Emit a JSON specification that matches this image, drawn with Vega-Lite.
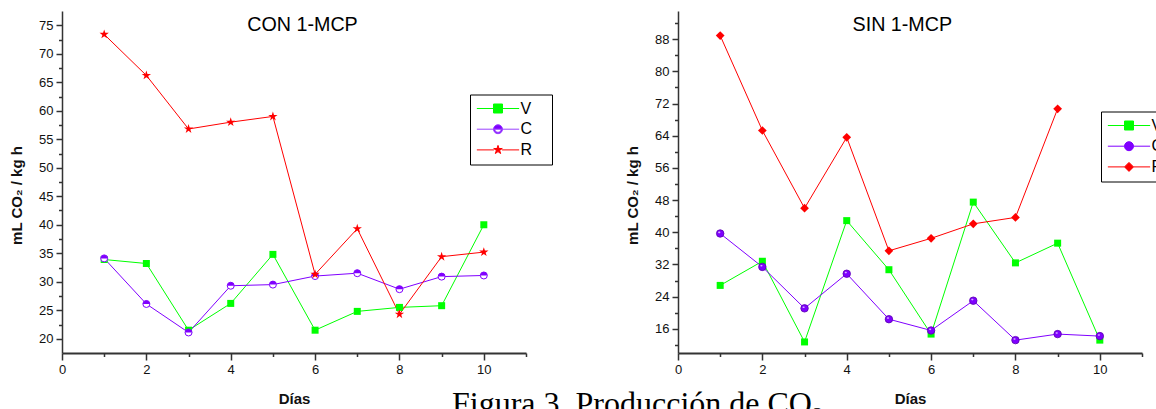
{
  "$schema": "https://vega.github.io/schema/vega-lite/v6.json",
  "background": "white",
  "padding": {"left": 9, "top": 11, "right": 0, "bottom": 0},
  "config": {
    "font": "Liberation Sans",
    "view": {"stroke": null},
    "axis": {"grid": false, "domainColor": "#333333", "tickColor": "#333333", "labelFont": "Liberation Sans", "labelFontSize": 13, "labelColor": "#111111", "titleFont": "Liberation Sans", "titleFontSize": 15, "titleFontWeight": "bold", "titleColor": "#111111"},
    "axisX": {"domainWidth": 2, "tickWidth": 1.5},
    "axisY": {"domainWidth": 1.5, "tickWidth": 1.5},
    "legend": {"orient": "none", "direction": "vertical", "symbolSize": 81, "symbolOffset": 14, "labelOffset": 14.5, "padding": 6, "rowPadding": 4.7, "strokeColor": "black", "fillColor": "white", "labelFontSize": 16, "labelFont": "Liberation Sans", "labelColor": "black", "symbolStrokeWidth": 1}
  },
  "title": {"text": "Figura 3. Producción de CO₂", "orient": "bottom", "anchor": "start", "frame": "bounds", "dx": 443, "offset": 8, "baseline": "alphabetic", "font": "Liberation Serif", "fontSize": 32, "fontWeight": "normal", "color": "black"},
  "datasets": {
    "con": [
      {"dia": 1, "serie": "V", "valor": 33.9}, {"dia": 2, "serie": "V", "valor": 33.2}, {"dia": 3, "serie": "V", "valor": 21.5}, {"dia": 4, "serie": "V", "valor": 26.2}, {"dia": 5, "serie": "V", "valor": 34.8},
      {"dia": 6, "serie": "V", "valor": 21.5}, {"dia": 7, "serie": "V", "valor": 24.8}, {"dia": 8, "serie": "V", "valor": 25.5}, {"dia": 9, "serie": "V", "valor": 25.8}, {"dia": 10, "serie": "V", "valor": 40.0},
      {"dia": 1, "serie": "C", "valor": 34.1}, {"dia": 2, "serie": "C", "valor": 26.1}, {"dia": 3, "serie": "C", "valor": 21.1}, {"dia": 4, "serie": "C", "valor": 29.3}, {"dia": 5, "serie": "C", "valor": 29.5},
      {"dia": 6, "serie": "C", "valor": 31.0}, {"dia": 7, "serie": "C", "valor": 31.5}, {"dia": 8, "serie": "C", "valor": 28.7}, {"dia": 9, "serie": "C", "valor": 30.9}, {"dia": 10, "serie": "C", "valor": 31.1},
      {"dia": 1, "serie": "R", "valor": 73.4}, {"dia": 2, "serie": "R", "valor": 66.2}, {"dia": 3, "serie": "R", "valor": 56.8}, {"dia": 4, "serie": "R", "valor": 58.0}, {"dia": 5, "serie": "R", "valor": 59.0},
      {"dia": 6, "serie": "R", "valor": 31.3}, {"dia": 7, "serie": "R", "valor": 39.3}, {"dia": 8, "serie": "R", "valor": 24.3}, {"dia": 9, "serie": "R", "valor": 34.4}, {"dia": 10, "serie": "R", "valor": 35.2}
    ],
    "sin": [
      {"dia": 1, "serie": "V", "valor": 26.8}, {"dia": 2, "serie": "V", "valor": 32.8}, {"dia": 3, "serie": "V", "valor": 12.75}, {"dia": 4, "serie": "V", "valor": 42.9}, {"dia": 5, "serie": "V", "valor": 30.7},
      {"dia": 6, "serie": "V", "valor": 14.7}, {"dia": 7, "serie": "V", "valor": 47.5}, {"dia": 8, "serie": "V", "valor": 32.4}, {"dia": 9, "serie": "V", "valor": 37.3}, {"dia": 10, "serie": "V", "valor": 13.2},
      {"dia": 1, "serie": "C", "valor": 39.7}, {"dia": 2, "serie": "C", "valor": 31.4}, {"dia": 3, "serie": "C", "valor": 21.1}, {"dia": 4, "serie": "C", "valor": 29.7}, {"dia": 5, "serie": "C", "valor": 18.4},
      {"dia": 6, "serie": "C", "valor": 15.6}, {"dia": 7, "serie": "C", "valor": 23.0}, {"dia": 8, "serie": "C", "valor": 13.2}, {"dia": 9, "serie": "C", "valor": 14.7}, {"dia": 10, "serie": "C", "valor": 14.2},
      {"dia": 1, "serie": "R", "valor": 88.9}, {"dia": 2, "serie": "R", "valor": 65.3}, {"dia": 3, "serie": "R", "valor": 46.0}, {"dia": 4, "serie": "R", "valor": 63.6}, {"dia": 5, "serie": "R", "valor": 35.4},
      {"dia": 6, "serie": "R", "valor": 38.5}, {"dia": 7, "serie": "R", "valor": 42.1}, {"dia": 8, "serie": "R", "valor": 43.7}, {"dia": 9, "serie": "R", "valor": 70.7}
    ]
  },
  "bounds": "flush",
  "spacing": 152,
  "resolve": {"scale": {"x": "independent", "y": "independent", "color": "independent", "fill": "independent", "stroke": "independent", "shape": "independent"}, "legend": {"color": "independent", "fill": "independent", "stroke": "independent", "shape": "independent"}},
  "hconcat": [
    {
      "width": 464, "height": 342,
      "data": {"name": "con"},
      "title": {"text": "CON 1-MCP", "orient": "top", "anchor": "middle", "frame": "group", "dx": 8.5, "offset": -39.3, "baseline": "alphabetic", "font": "Liberation Sans", "fontSize": 19.7, "fontWeight": "normal", "color": "black"},
      "resolve": {"axis": {"x": "independent", "y": "independent"}},
      "layer": [
        {
          "mark": {"type": "line", "strokeWidth": 1},
          "encoding": {
            "x": {"field": "dia", "type": "quantitative", "scale": {"domain": [0, 11], "nice": false, "zero": false}, "axis": {"values": [0, 2, 4, 6, 8, 10], "format": "d", "tickSize": 7, "labelPadding": 3, "labelFlush": false, "labelOverlap": false, "title": "Días", "titleX": 232, "titleY": 50, "titleBaseline": "alphabetic", "titleAlign": "center"}},
            "y": {"field": "valor", "type": "quantitative", "scale": {"domain": [17.5, 77.5], "nice": false, "zero": false}, "axis": {"values": [20, 25, 30, 35, 40, 45, 50, 55, 60, 65, 70, 75], "tickSize": 6, "labelPadding": 3, "labelFlush": false, "labelOverlap": false, "title": "mL CO₂ / kg h", "titleX": -41, "titleY": 184, "titleBaseline": "alphabetic", "titleAlign": "center"}},
            "color": {"field": "serie", "type": "nominal", "scale": {"domain": ["R", "C", "V"], "range": ["#ff0000", "#8000ff", "#00ff00"]}, "legend": null}
          }
        },
        {
          "transform": [{"filter": "datum.serie === 'V'"}],
          "mark": {"type": "point", "shape": "square", "filled": true, "color": "#00ff00", "size": 49, "opacity": 1},
          "encoding": {
            "x": {"field": "dia", "type": "quantitative", "scale": {"domain": [0, 11], "nice": false, "zero": false}, "axis": {"orient": "bottom", "values": [1, 3, 5, 7, 9, 11], "tickSize": 3.5, "labels": false, "domain": false, "title": null}},
            "y": {"field": "valor", "type": "quantitative", "scale": {"domain": [17.5, 77.5], "nice": false, "zero": false}, "axis": {"orient": "left", "values": [22.5, 27.5, 32.5, 37.5, 42.5, 47.5, 52.5, 57.5, 62.5, 67.5, 72.5], "tickSize": 3.5, "labels": false, "domain": false, "title": null}}
          }
        },
        {
          "transform": [{"filter": "datum.serie === 'C'"}],
          "mark": {"type": "point", "shape": "circle", "filled": true, "fill": "#ffffff", "stroke": "#8000ff", "strokeWidth": 1, "size": 49, "opacity": 1},
          "encoding": {
            "x": {"field": "dia", "type": "quantitative", "scale": {"domain": [0, 11], "nice": false, "zero": false}, "axis": null},
            "y": {"field": "valor", "type": "quantitative", "scale": {"domain": [17.5, 77.5], "nice": false, "zero": false}, "axis": null}
          }
        },
        {
          "transform": [{"filter": "datum.serie === 'C'"}],
          "mark": {"type": "point", "shape": "M-1,0A1,1 0 0,1 1,0Z", "filled": true, "color": "#8000ff", "size": 49, "opacity": 1},
          "encoding": {
            "x": {"field": "dia", "type": "quantitative", "scale": {"domain": [0, 11], "nice": false, "zero": false}, "axis": null},
            "y": {"field": "valor", "type": "quantitative", "scale": {"domain": [17.5, 77.5], "nice": false, "zero": false}, "axis": null}
          }
        },
        {
          "transform": [{"filter": "datum.serie === 'R'"}],
          "mark": {"type": "point", "shape": "M0,-1L0.225,-0.309L0.951,-0.309L0.363,0.118L0.588,0.809L0,0.382L-0.588,0.809L-0.363,0.118L-0.951,-0.309L-0.225,-0.309Z", "filled": true, "color": "#ff0000", "size": 96, "opacity": 1},
          "encoding": {
            "x": {"field": "dia", "type": "quantitative", "scale": {"domain": [0, 11], "nice": false, "zero": false}, "axis": null},
            "y": {"field": "valor", "type": "quantitative", "scale": {"domain": [17.5, 77.5], "nice": false, "zero": false}, "axis": null}
          }
        },
        {
          "transform": [{"filter": "false"}],
          "mark": {"type": "point", "filled": true, "size": 81, "strokeWidth": 1, "opacity": 1},
          "encoding": {
            "x": {"field": "dia", "type": "quantitative", "scale": {"domain": [0, 11], "nice": false, "zero": false}, "axis": null},
            "y": {"field": "valor", "type": "quantitative", "scale": {"domain": [17.5, 77.5], "nice": false, "zero": false}, "axis": null},
            "fill": {"field": "serie", "type": "nominal", "scale": {"domain": ["V", "C", "R"], "range": ["#00ff00", "#8000ff", "#ff0000"]}, "legend": {"title": null, "legendX": 408, "legendY": 83.5, "labelExpr": "datum.label + '\u00a0\u00a0\u00a0\u200b'"}},
            "stroke": {"field": "serie", "type": "nominal", "scale": {"domain": ["V", "C", "R"], "range": ["#00ff00", "#9a40ff", "#ff0000"]}, "legend": {"title": null, "legendX": 408, "legendY": 83.5, "labelExpr": "datum.label + '\u00a0\u00a0\u00a0\u200b'"}},
            "shape": {"field": "serie", "type": "nominal", "scale": {"domain": ["V", "C", "R"], "range": ["M-4.7,0H-1M1,0H4.7M-1,-1H1V1H-1Z", "M-4.7,0H-1M1,0H4.7M-1,0A1,1 0 0,1 1,0ZM-1,0A1,1 0 0,0 1,0L0.7,0A0.7,0.7 0 0,1 -0.7,0Z", "M-4.7,0H-0.9M0.9,0H4.7M0,-1L0.225,-0.309L0.951,-0.309L0.363,0.118L0.588,0.809L0,0.382L-0.588,0.809L-0.363,0.118L-0.951,-0.309L-0.225,-0.309Z"]}, "legend": {"title": null, "legendX": 408, "legendY": 83.5, "labelExpr": "datum.label + '\u00a0\u00a0\u00a0\u200b'"}}
          }
        }
      ]
    },
    {
      "width": 464, "height": 342,
      "data": {"name": "sin"},
      "title": {"text": "SIN 1-MCP", "orient": "top", "anchor": "middle", "frame": "group", "dx": -7.7, "offset": -39.3, "baseline": "alphabetic", "font": "Liberation Sans", "fontSize": 19.7, "fontWeight": "normal", "color": "black"},
      "resolve": {"axis": {"x": "independent", "y": "independent"}},
      "layer": [
        {
          "mark": {"type": "line", "strokeWidth": 1},
          "encoding": {
            "x": {"field": "dia", "type": "quantitative", "scale": {"domain": [0, 11], "nice": false, "zero": false}, "axis": {"values": [0, 2, 4, 6, 8, 10], "format": "d", "tickSize": 7, "labelPadding": 3, "labelFlush": false, "labelOverlap": false, "title": "Días", "titleX": 232, "titleY": 50, "titleBaseline": "alphabetic", "titleAlign": "center"}},
            "y": {"field": "valor", "type": "quantitative", "scale": {"domain": [10, 95], "nice": false, "zero": false}, "axis": {"values": [16, 24, 32, 40, 48, 56, 64, 72, 80, 88], "tickSize": 6, "labelPadding": 3, "labelFlush": false, "labelOverlap": false, "title": "mL CO₂ / kg h", "titleX": -41, "titleY": 184, "titleBaseline": "alphabetic", "titleAlign": "center"}},
            "color": {"field": "serie", "type": "nominal", "scale": {"domain": ["R", "C", "V"], "range": ["#ff0000", "#8000ff", "#00ff00"]}, "legend": null}
          }
        },
        {
          "transform": [{"filter": "datum.serie === 'V'"}],
          "mark": {"type": "point", "shape": "square", "filled": true, "color": "#00ff00", "size": 49, "opacity": 1},
          "encoding": {
            "x": {"field": "dia", "type": "quantitative", "scale": {"domain": [0, 11], "nice": false, "zero": false}, "axis": {"orient": "bottom", "values": [1, 3, 5, 7, 9, 11], "tickSize": 3.5, "labels": false, "domain": false, "title": null}},
            "y": {"field": "valor", "type": "quantitative", "scale": {"domain": [10, 95], "nice": false, "zero": false}, "axis": {"orient": "left", "values": [12, 20, 28, 36, 44, 52, 60, 68, 76, 84, 92], "tickSize": 3.5, "labels": false, "domain": false, "title": null}}
          }
        },
        {
          "transform": [{"filter": "datum.serie === 'C'"}],
          "mark": {"type": "point", "shape": "circle", "filled": true, "fill": "#7f00ff", "stroke": "#5a00b0", "strokeWidth": 0.8, "size": 56, "opacity": 1},
          "encoding": {
            "x": {"field": "dia", "type": "quantitative", "scale": {"domain": [0, 11], "nice": false, "zero": false}, "axis": null},
            "y": {"field": "valor", "type": "quantitative", "scale": {"domain": [10, 95], "nice": false, "zero": false}, "axis": null}
          }
        },
        {
          "transform": [{"filter": "datum.serie === 'C'"}],
          "mark": {"type": "point", "shape": "M-0.55,-0.3A0.3,0.22 0 1,1 0.05,-0.3A0.3,0.22 0 1,1 -0.55,-0.3Z", "filled": true, "color": "#e2c4ff", "size": 56, "opacity": 0.9},
          "encoding": {
            "x": {"field": "dia", "type": "quantitative", "scale": {"domain": [0, 11], "nice": false, "zero": false}, "axis": null},
            "y": {"field": "valor", "type": "quantitative", "scale": {"domain": [10, 95], "nice": false, "zero": false}, "axis": null}
          }
        },
        {
          "transform": [{"filter": "datum.serie === 'R'"}],
          "mark": {"type": "point", "shape": "diamond", "filled": true, "color": "#ff0000", "size": 76, "opacity": 1},
          "encoding": {
            "x": {"field": "dia", "type": "quantitative", "scale": {"domain": [0, 11], "nice": false, "zero": false}, "axis": null},
            "y": {"field": "valor", "type": "quantitative", "scale": {"domain": [10, 95], "nice": false, "zero": false}, "axis": null}
          }
        },
        {
          "transform": [{"filter": "false"}],
          "mark": {"type": "point", "filled": true, "size": 81, "strokeWidth": 1, "opacity": 1},
          "encoding": {
            "x": {"field": "dia", "type": "quantitative", "scale": {"domain": [0, 11], "nice": false, "zero": false}, "axis": null},
            "y": {"field": "valor", "type": "quantitative", "scale": {"domain": [10, 95], "nice": false, "zero": false}, "axis": null},
            "fill": {"field": "serie", "type": "nominal", "scale": {"domain": ["V", "C", "R"], "range": ["#00ff00", "#8000ff", "#ff0000"]}, "legend": {"title": null, "legendX": 423, "legendY": 100.5}},
            "stroke": {"field": "serie", "type": "nominal", "scale": {"domain": ["V", "C", "R"], "range": ["#00ff00", "#8000ff", "#ff0000"]}, "legend": {"title": null, "legendX": 423, "legendY": 100.5}},
            "shape": {"field": "serie", "type": "nominal", "scale": {"domain": ["V", "C", "R"], "range": ["M-4.7,0H-1M1,0H4.7M-1,-1H1V1H-1Z", "M-4.7,0H-1M1,0H4.7M-1,0A1,1 0 0,1 1,0A1,1 0 0,1 -1,0Z", "M-4.7,0H-1M1,0H4.7M-1,0L0,-1L1,0L0,1Z"]}, "legend": {"title": null, "legendX": 423, "legendY": 100.5}}
          }
        }
      ]
    }
  ]
}
